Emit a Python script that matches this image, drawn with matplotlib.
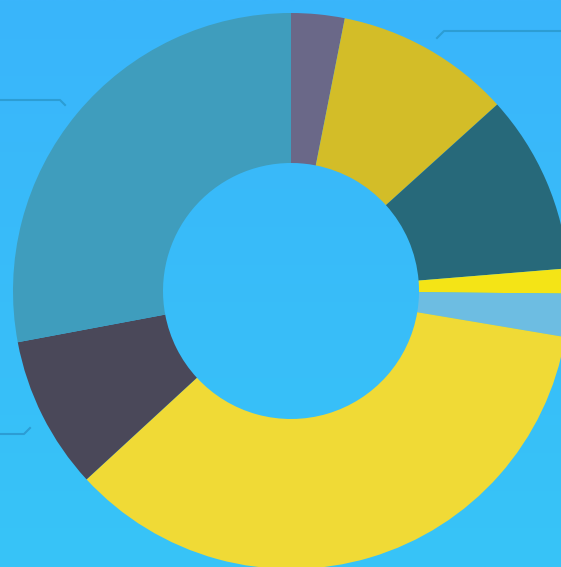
import numpy as np
import matplotlib
matplotlib.use("Agg")
import matplotlib.pyplot as plt
from matplotlib.colors import LinearSegmentedColormap

# Data (clockwise from 12 o'clock), shares in percent
categories = ["A", "B", "C", "D", "E", "F", "G", "H"]
values = [3.1, 10.2, 10.4, 1.45, 2.5, 35.5, 8.9, 27.95]
colors = ["#6a6888", "#d3bd28", "#27697a", "#f4e416", "#6dbde2", "#f0da36", "#4a4859", "#3f9dbd"]

W, H = 561, 567
fig = plt.figure(figsize=(W / 100, H / 100), dpi=100)
ax = fig.add_axes([0, 0, 1, 1])

# background vertical gradient
grad = np.linspace(0, 1, 256).reshape(-1, 1)
cmap = LinearSegmentedColormap.from_list("bg", ["#37c4f7", "#3ab5fb"])
ax.imshow(grad, extent=[0, W, 0, H], origin="lower", cmap=cmap, aspect="auto", zorder=0)

cx, cy = 291, H - 291
R = 278
inner = 128
ax.pie(values, colors=colors, startangle=90, counterclock=False,
       center=(cx, cy), radius=R, frame=True,
       wedgeprops=dict(width=R - inner, linewidth=0))
ax.set_xlim(0, W)
ax.set_ylim(0, H)
ax.set_aspect("equal")
ax.axis("off")

# faint leader lines (labels lie outside the visible area)
lc = "#2c9dd4"
ax.plot([437, 444, 561], [H - 38, H - 31, H - 31], color=lc, lw=1.5, zorder=1)
ax.plot([0, 60, 65], [H - 100, H - 100, H - 105], color=lc, lw=1.5, zorder=1)
ax.plot([0, 24, 30], [H - 434, H - 434, H - 428], color=lc, lw=1.5, zorder=1)

fig.savefig("out.png", dpi=100)
